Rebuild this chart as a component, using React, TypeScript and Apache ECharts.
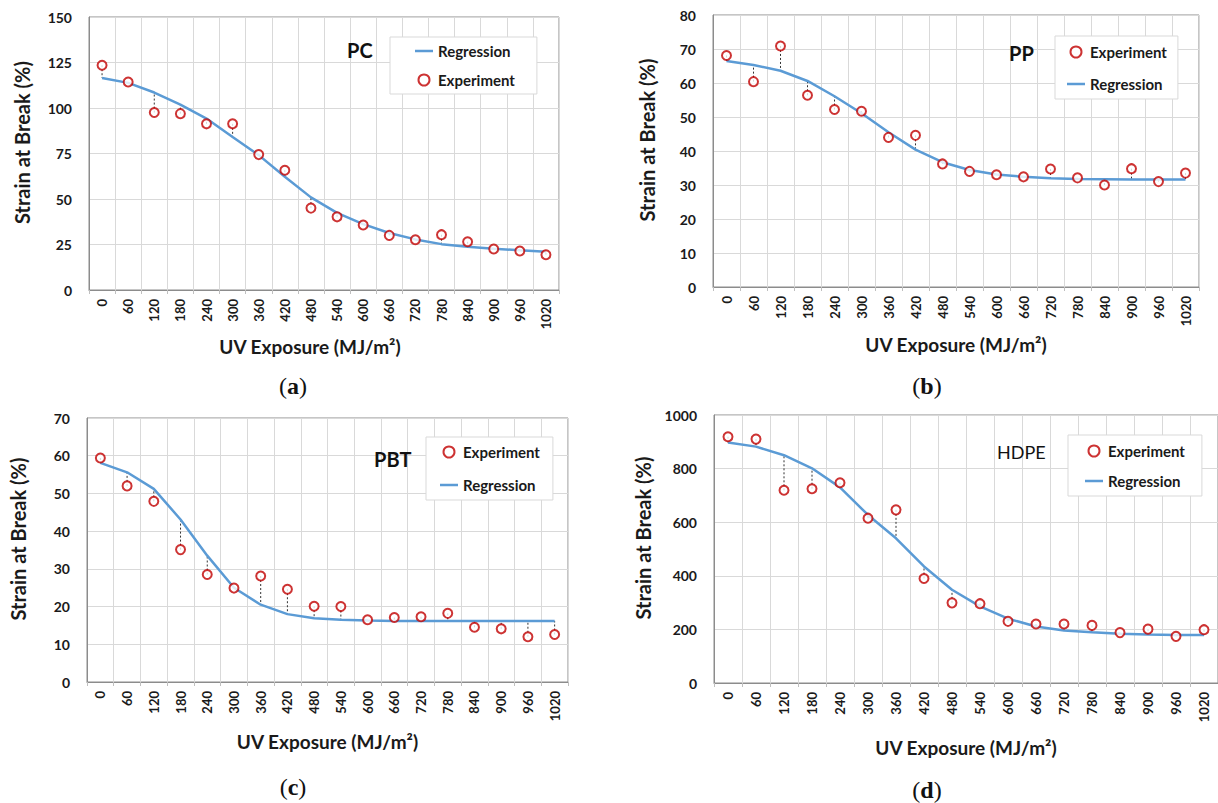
import React, { useEffect, useRef } from "react";
import * as echarts from "echarts";

// ---- data ----
const X_CATEGORIES = ["0", "60", "120", "180", "240", "300", "360", "420", "480", "540", "600", "660", "720", "780", "840", "900", "960", "1020"];

const PC_EXPERIMENT = [123.5, 114.3, 97.5, 96.9, 91.3, 91.3, 74.4, 65.8, 45.0, 40.2, 35.7, 30.0, 27.6, 30.4, 26.5, 22.5, 21.4, 19.4];
const PC_REGRESSION = [116.5, 113.8, 108.5, 101.9, 94.2, 84.1, 74.1, 62.2, 50.9, 42.4, 36.2, 31.3, 27.8, 25.2, 23.8, 22.7, 21.8, 21.0];

const PP_EXPERIMENT = [68.1, 60.4, 70.9, 56.4, 52.2, 51.7, 44.0, 44.6, 36.2, 34.0, 33.0, 32.4, 34.7, 32.1, 30.0, 34.8, 31.0, 33.5];
const PP_REGRESSION = [66.5, 65.3, 63.6, 60.6, 56.1, 51.1, 45.5, 40.4, 36.7, 34.4, 33.1, 32.4, 32.0, 31.8, 31.7, 31.6, 31.6, 31.6];

const PBT_EXPERIMENT = [59.4, 52.0, 47.9, 35.1, 28.5, 24.9, 28.1, 24.6, 20.1, 20.0, 16.5, 17.1, 17.3, 18.2, 14.5, 14.1, 12.0, 12.6];
const PBT_REGRESSION = [58.1, 55.6, 51.2, 43.1, 33.5, 25.0, 20.5, 18.0, 16.9, 16.5, 16.3, 16.2, 16.2, 16.2, 16.2, 16.2, 16.2, 16.2];

const HDPE_EXPERIMENT = [919, 910, 719, 725, 747, 615, 646, 390, 299, 296, 230, 220, 220, 215, 188, 201, 174, 199];
const HDPE_REGRESSION = [897, 882, 850, 801, 730, 627, 540, 435, 348, 286, 240, 211, 196, 189, 184, 181, 179, 179];

const Y_TITLE = "Strain at Break (%)";
const X_TITLE = "UV Exposure (MJ/m\u00B2)";

// ---- style ----
const FONT = "Lato, 'Open Sans', sans-serif";
const SERIF = "'Liberation Serif', 'DejaVu Serif', serif";
const RED = "#c00000";
const BLUE = "#5b9bd5";
const TXT = "#1a1a1a";

interface PanelCfg {
  name: string;
  letter: string;
  exp: number[];
  reg: number[];
  yMax: number;
  yInt: number;
  grid: { left: number; top: number; width: number; height: number };
  yNameGap: number;
  xNameGap: number;
  xNameShift: number;
  legendOrder: string[];
  legendPos: { left: number; top: number; padding: number[]; itemGap: number };
  titlePos: { x: number; y: number; bold: boolean; size: number };
  captionPos: { x: number; y: number };
}

const PANELS: PanelCfg[] = [
  {
    name: "PC", letter: "a", exp: PC_EXPERIMENT, reg: PC_REGRESSION, yMax: 150, yInt: 25,
    grid: { left: 89, top: 17, width: 470, height: 273 },
    yNameGap: 57, xNameGap: 47, xNameShift: 28,
    legendOrder: ["Regression", "Experiment"],
    legendPos: { left: 390, top: 37, padding: [5, 22, 5, 25], itemGap: 11 },
    titlePos: { x: 347, y: 50, bold: true, size: 20 },
    captionPos: { x: 293, y: 386 },
  },
  {
    name: "PP", letter: "b", exp: PP_EXPERIMENT, reg: PP_REGRESSION, yMax: 80, yInt: 10,
    grid: { left: 713, top: 15, width: 486, height: 272 },
    yNameGap: 56, xNameGap: 48, xNameShift: 0,
    legendOrder: ["Experiment", "Regression"],
    legendPos: { left: 1055, top: 36, padding: [7, 11, 6, 12], itemGap: 14 },
    titlePos: { x: 1009, y: 53, bold: true, size: 20 },
    captionPos: { x: 927, y: 386 },
  },
  {
    name: "PBT", letter: "c", exp: PBT_EXPERIMENT, reg: PBT_REGRESSION, yMax: 70, yInt: 10,
    grid: { left: 87, top: 418, width: 481, height: 264 },
    yNameGap: 59, xNameGap: 50, xNameShift: 0,
    legendOrder: ["Experiment", "Regression"],
    legendPos: { left: 426, top: 437, padding: [6, 13, 6, 14], itemGap: 15 },
    titlePos: { x: 374, y: 459, bold: true, size: 20 },
    captionPos: { x: 293, y: 787 },
  },
  {
    name: "HDPE", letter: "d", exp: HDPE_EXPERIMENT, reg: HDPE_REGRESSION, yMax: 1000, yInt: 200,
    grid: { left: 714, top: 415, width: 504, height: 268 },
    yNameGap: 61, xNameGap: 55, xNameShift: 0,
    legendOrder: ["Experiment", "Regression"],
    legendPos: { left: 1068, top: 435, padding: [7, 17, 6, 17], itemGap: 12 },
    titlePos: { x: 997, y: 452, bold: false, size: 18 },
    captionPos: { x: 927, y: 790 },
  },
];

function buildOption() {
  const grid: any[] = [];
  const xAxis: any[] = [];
  const yAxis: any[] = [];
  const series: any[] = [];
  const legend: any[] = [];
  const graphic: any[] = [];

  PANELS.forEach((p, i) => {
    grid.push({
      ...p.grid,
      show: true,
      borderColor: "#8c8c8c",
      borderWidth: 1,
      backgroundColor: "transparent",
      containLabel: false,
    });
    xAxis.push({
      type: "category",
      gridIndex: i,
      data: X_CATEGORIES,
      boundaryGap: true,
      name: X_TITLE,
      nameLocation: "middle",
      nameGap: p.xNameGap,
      nameTextStyle: {
        fontFamily: FONT, fontWeight: "bold", fontSize: 19, color: TXT,
        padding: [0, p.xNameShift, 0, 0],
      },
      axisLine: { show: true, lineStyle: { color: "#8c8c8c", width: 1 } },
      axisTick: { show: true, length: 4, interval: 0, lineStyle: { color: "#bfbfbf" } },
      axisLabel: {
        rotate: 90, interval: 0, margin: 9,
        fontFamily: FONT, fontWeight: "bold", fontSize: 13, color: TXT,
      },
      splitLine: { show: true, interval: 0, lineStyle: { color: "#d9d9d9", width: 1 } },
    });
    yAxis.push({
      type: "value",
      gridIndex: i,
      min: 0,
      max: p.yMax,
      interval: p.yInt,
      name: Y_TITLE,
      nameLocation: "middle",
      nameRotate: 90,
      nameGap: p.yNameGap,
      nameTextStyle: {
        fontFamily: FONT, fontWeight: "bold", fontSize: 20, color: TXT,
        padding: [0, 0, 0, 22],
      },
      axisLine: { show: true, lineStyle: { color: "#8c8c8c", width: 1 } },
      axisTick: { show: false },
      axisLabel: {
        margin: 17, fontFamily: FONT, fontWeight: "bold", fontSize: 14, color: TXT,
        formatter: (v: number) => String(v),
      },
      splitLine: { show: true, lineStyle: { color: "#d9d9d9", width: 1 } },
    });

    // residual dotted lines between experiment and regression
    series.push({
      type: "custom",
      name: "Residual" + i,
      xAxisIndex: i,
      yAxisIndex: i,
      z: 1,
      silent: true,
      encode: { x: 0, y: [1, 2] },
      data: p.exp.map((v, k) => [k, v, p.reg[k]]),
      renderItem: (_params: any, api: any) => {
        const k = api.value(0);
        const a = api.coord([k, api.value(1)]);
        const b = api.coord([k, api.value(2)]);
        return {
          type: "line",
          shape: { x1: a[0], y1: a[1], x2: b[0], y2: b[1] },
          style: { stroke: "#333333", lineWidth: 1, lineDash: [2, 2] },
        };
      },
    });
    series.push({
      type: "line",
      name: "Regression",
      xAxisIndex: i,
      yAxisIndex: i,
      z: 2,
      data: p.reg,
      symbol: "none",
      showSymbol: false,
      smooth: false,
      lineStyle: { color: BLUE, width: 2.5 },
      itemStyle: { color: BLUE },
    });
    series.push({
      type: "scatter",
      name: "Experiment",
      xAxisIndex: i,
      yAxisIndex: i,
      z: 3,
      data: p.exp,
      symbol: "circle",
      symbolSize: 9,
      itemStyle: { color: "#ffffff", borderColor: RED, borderWidth: 2 },
    });

    legend.push({
      orient: "vertical",
      left: p.legendPos.left,
      top: p.legendPos.top,
      padding: p.legendPos.padding,
      itemGap: p.legendPos.itemGap,
      itemWidth: 18,
      itemHeight: 11,
      symbolKeepAspect: true,
      backgroundColor: "#ffffff",
      borderColor: "#d9d9d9",
      borderWidth: 1,
      selectedMode: false,
      textStyle: { fontFamily: FONT, fontWeight: "bold", fontSize: 15, color: TXT, lineHeight: 18 },
      data: p.legendOrder.map((n) =>
        n === "Experiment"
          ? { name: n, icon: "circle", itemStyle: { color: "#ffffff", borderColor: RED, borderWidth: 2 } }
          : { name: n, icon: "path://M0,0H36V5H0Z", itemStyle: { color: BLUE, borderWidth: 0 } }
      ),
    });

    graphic.push({
      type: "text",
      z: 100,
      x: p.titlePos.x,
      y: p.titlePos.y,
      style: {
        text: p.name,
        verticalAlign: "middle",
        fontFamily: FONT,
        fontWeight: p.titlePos.bold ? "bold" : "normal",
        fontSize: p.titlePos.size,
        fill: "#111111",
      },
    });
    graphic.push({
      type: "text",
      z: 100,
      x: p.captionPos.x,
      y: p.captionPos.y,
      style: {
        text: "{p|(}{l|" + p.letter + "}{p|)}",
        align: "center",
        verticalAlign: "middle",
        rich: {
          p: { fontFamily: SERIF, fontSize: 24, fill: "#111111" },
          l: { fontFamily: SERIF, fontSize: 24, fontWeight: "bold", fill: "#111111" },
        },
      },
    });
  });

  return {
    animation: false,
    backgroundColor: "#ffffff",
    grid,
    xAxis,
    yAxis,
    series,
    legend,
    graphic,
  };
}

export default function App() {
  const ref = useRef<HTMLDivElement>(null);
  useEffect(() => {
    if (!ref.current) return;
    const chart = echarts.init(ref.current, undefined, { renderer: "svg" });
    chart.setOption(buildOption() as any);
    return () => chart.dispose();
  }, []);
  return (
    <div
      ref={ref}
      style={{ position: "fixed", left: 0, top: 0, width: 1218, height: 803, background: "#ffffff" }}
    />
  );
}
